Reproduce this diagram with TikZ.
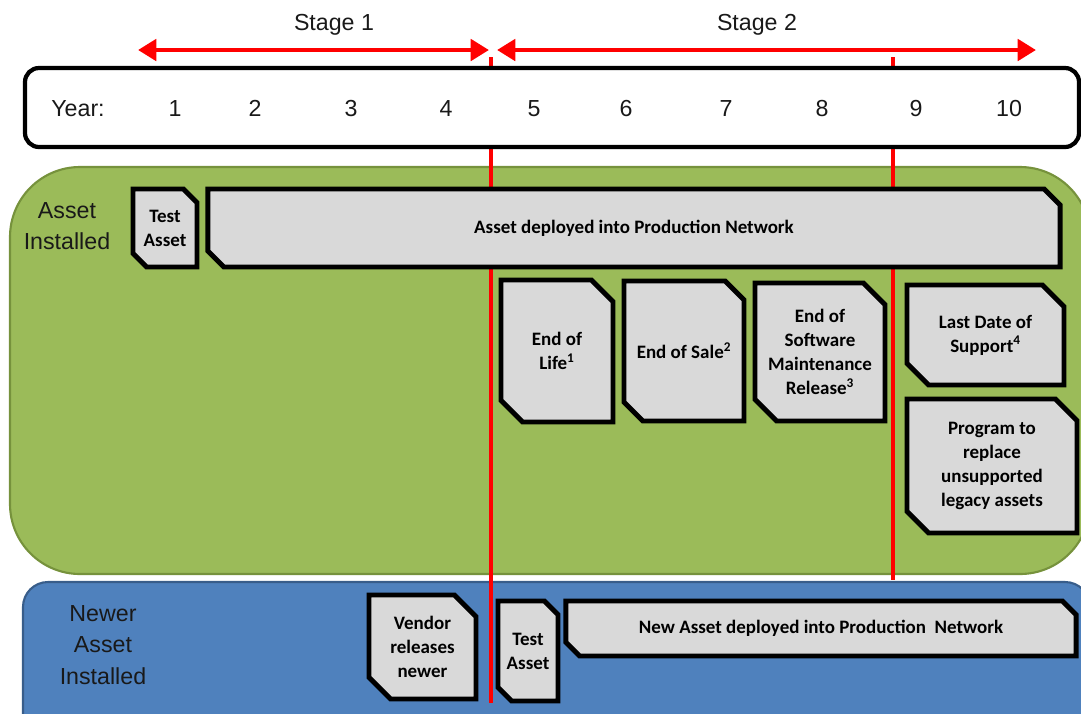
\documentclass[tikz,border=0pt]{standalone}
\usepackage{fontspec}
\setmainfont{Liberation Sans}
\newfontfamily\boxfont{Carlito}
\usetikzlibrary{arrows.meta,shapes.misc}

\definecolor{areagreen}{HTML}{9BBB59}
\definecolor{areagreenline}{HTML}{76923C}
\definecolor{areablue}{HTML}{4F81BD}
\definecolor{areablueline}{HTML}{385D8A}
\definecolor{boxgray}{HTML}{D9D9D9}

\tikzset{
  snip/.style={chamfered rectangle, chamfered rectangle corners={north east,south west},
    chamfered rectangle sep=#1, draw=black, line width=3.5pt, fill=boxgray,
    align=center, inner sep=0pt, font=\boxfont\bfseries\fontsize{13.5}{17}\selectfont},
  snip/.default=0.27cm,
  lbl/.style={font=\fontsize{16.5}{22.5}\selectfont, align=center, text=black!90},
  yr/.style={lbl, anchor=base},
  stagearrow/.style={red, line width=3.5pt,
    {Triangle[length=13pt,width=15pt]}-{Triangle[length=13pt,width=15pt]}},
  marker/.style={red, line width=2.8pt},
}

\begin{document}
\begin{tikzpicture}[x=0.025cm, y=-0.025cm]
\useasboundingbox (0,0) rectangle (1081,713);
\clip (0,0) rectangle (1081,713);

% the two swim lanes
\draw[fill=areagreen, draw=areagreenline, line width=1.5pt, rounded corners=1.75cm] (10,167) rectangle (1090,574);
\draw[fill=areablue, draw=areablueline, line width=1.5pt, rounded corners=0.625cm] (23,582) rectangle (1090,745);

% stage borders
\coordinate (m1top) at (491,57);
\coordinate (m1bot) at (491,703);
\coordinate (m2top) at (893,57);
\coordinate (m2bot) at (893,580);
\draw[marker] (m1top) -- (m1bot);
\draw[marker] (m2top) -- (m2bot);

\coordinate (s1left) at (138,50);
\coordinate (s1right) at (489,50);
\coordinate (s2left) at (497,50);
\coordinate (s2right) at (1036,50);
\draw[stagearrow] (s1left) -- (s1right);
\draw[stagearrow] (s2left) -- (s2right);
\node[lbl] (stage1) at (334,25) {Stage 1};
\node[lbl] (stage2) at (757,25) {Stage 2};

% years
\draw[fill=white, line width=3pt, rounded corners=0.35cm] (25,68) rectangle (1079,147);
\node[yr] (year) at (78,116) {Year:};
\node[yr] (y1) at (175,116) {1};
\node[yr] (y2) at (255,116) {2};
\node[yr] (y3) at (351,116) {3};
\node[yr] (y4) at (446,116) {4};
\node[yr] (y5) at (534,116) {5};
\node[yr] (y6) at (626,116) {6};
\node[yr] (y7) at (726,116) {7};
\node[yr] (y8) at (822,116) {8};
\node[yr] (y9) at (916,116) {9};
\node[yr] (y10) at (1009,116) {10};

% installed asset
\node[lbl] (oldlane) at (67,226) {Asset\\Installed};
\node[snip=0.17cm, minimum width=1.6cm, minimum height=1.95cm] (oldtest) at (165,228) {Test\\Asset};
\node[snip=0.2cm, minimum width=21.3cm, minimum height=1.95cm] (olddeploy) at (634,228) {Asset deployed into Production Network};
\node[snip, minimum width=2.8cm, minimum height=3.55cm] (eol) at (557,351) {End of\\Life\textsuperscript{1}};
\node[snip, minimum width=3cm, minimum height=3.5cm] (eos) at (684,351) {End of Sale\textsuperscript{2}};
\node[snip, minimum width=3.25cm, minimum height=3.45cm] (eosm) at (820,352) {End of\\Software\\Maintenance\\Release\textsuperscript{3}};
\node[snip, minimum width=3.925cm, minimum height=2.5cm] (ldos) at (985.5,335) {Last Date of\\Support\textsuperscript{4}};
\node[snip, minimum width=4.25cm, minimum height=3.35cm] (replace) at (992,466) {Program to\\replace\\unsupported\\legacy assets};

% newer asset
\node[lbl] (newlane) at (103,645) {Newer\\Asset\\Installed};
\node[snip, minimum width=2.675cm, minimum height=2.6cm] (vendor) at (422.5,647) {Vendor\\releases\\newer};
\node[snip=0.17cm, minimum width=1.5cm, minimum height=2.5cm] (newtest) at (528,651) {Test\\Asset};
\node[snip=0.17cm, minimum width=12.75cm, minimum height=1.375cm] (newdeploy) at (821,628.5) {New Asset deployed into Production\ \ Network};
\end{tikzpicture}
\end{document}
